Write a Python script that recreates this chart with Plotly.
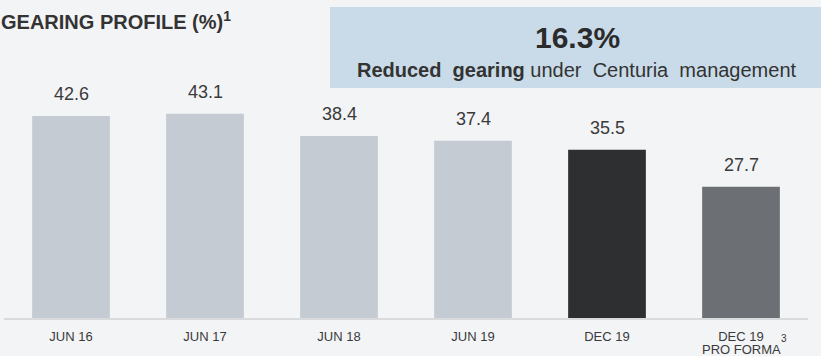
import plotly.graph_objects as go

categories = ["JUN 16", "JUN 17", "JUN 18", "JUN 19", "DEC 19", "DEC 19 PRO FORMA"]
tick_labels = ["JUN 16", "JUN 17", "JUN 18", "JUN 19", "DEC 19", "DEC 19"]
values = [42.6, 43.1, 38.4, 37.4, 35.5, 27.7]
value_labels = ["42.6", "43.1", "38.4", "37.4", "35.5", "27.7"]
bar_colors = ["#c4cbd2", "#c4cbd2", "#c4cbd2", "#c4cbd2", "#2e2f31", "#6c6f73"]

W, H = 821, 356
ML, MR, MT, MB = 4, 13, 81, 38
PW = W - ML - MR
PH = H - MT - MB

def px(x):
    return (x - ML) / PW

def py(y):
    return (H - MB - y) / PH

FONT = "Liberation Sans, Arial"

fig = go.Figure()
fig.add_trace(go.Bar(
    x=categories, y=values, marker=dict(color=bar_colors, line=dict(width=0)),
    hoverinfo="skip", showlegend=False,
))

annotations = []
for c, v, t in zip(categories, values, value_labels):
    annotations.append(dict(
        x=c, y=v, xref="x", yref="y", text=t, showarrow=False,
        yanchor="bottom", yshift=10,
        font=dict(family=FONT, size=18, color="#3a3a3a"),
    ))

# second line of the last category label, with its footnote mark
annotations.append(dict(
    x=categories[-1], y=py(349), xref="x", yref="paper", text="PRO FORMA",
    showarrow=False, xanchor="center", yanchor="middle",
    font=dict(family=FONT, size=13, color="#3a3a3a"),
))
annotations.append(dict(
    x=categories[-1], y=py(338), xref="x", yref="paper", text="3",
    showarrow=False, xanchor="left", yanchor="middle", xshift=38,
    font=dict(family=FONT, size=10, color="#3a3a3a"),
))

annotations.append(dict(
    x=px(-1), y=py(21), xref="paper", yref="paper", xanchor="left", yanchor="middle",
    text="<b>GEARING PROFILE (%)<sup>1</sup></b>", showarrow=False,
    font=dict(family=FONT, size=20, color="#333333"),
))
annotations.append(dict(
    x=px(577), y=py(37), xref="paper", yref="paper", xanchor="center", yanchor="middle",
    text="<b>16.3%</b>", showarrow=False,
    font=dict(family=FONT, size=30, color="#2b2b2b"),
))
annotations.append(dict(
    x=px(577), y=py(70), xref="paper", yref="paper", xanchor="center", yanchor="middle",
    text="<b>Reduced  gearing</b> under  Centuria  management", showarrow=False,
    font=dict(family=FONT, size=20, color="#333333"),
))

shapes = [dict(
    type="rect", xref="paper", yref="paper",
    x0=px(330), x1=px(821), y0=py(88), y1=py(7),
    fillcolor="#c9dbe8", line=dict(width=0), layer="below",
)]

fig.update_layout(
    width=W, height=H,
    margin=dict(l=ML, r=MR, t=MT, b=MB, autoexpand=False),
    paper_bgcolor="#f3f4f6", plot_bgcolor="#f3f4f6",
    bargap=0.42,
    annotations=annotations, shapes=shapes,
    xaxis=dict(
        showgrid=False, showline=True, linecolor="#d9dadc", linewidth=2,
        ticks="", ticklabelstandoff=5,
        tickmode="array", tickvals=categories, ticktext=tick_labels,
        tickfont=dict(family=FONT, size=13, color="#3a3a3a"),
        fixedrange=True, automargin=False,
    ),
    yaxis=dict(range=[0, 50], visible=False, showgrid=False, zeroline=False, fixedrange=True),
)

fig.write_html(
    "out.html",
    config={"displayModeBar": False, "staticPlot": True},
    post_script="document.body.style.margin='0';document.body.style.background='#f3f4f6';",
)
